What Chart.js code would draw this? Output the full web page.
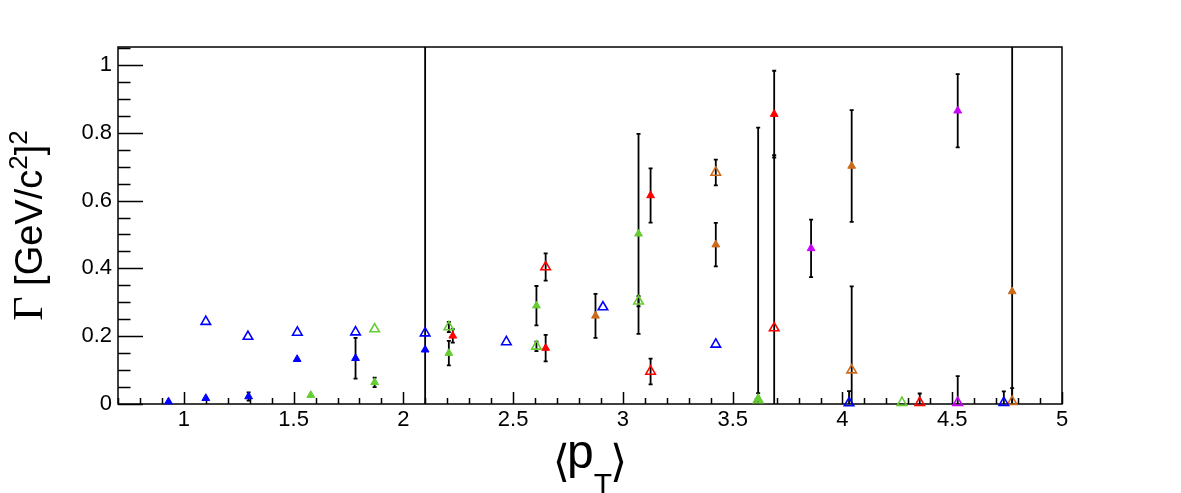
<!DOCTYPE html>
<html>
<head>
<meta charset="utf-8">
<script src="https://cdn.jsdelivr.net/npm/chart.js@4.4.1/dist/chart.umd.min.js"></script>
<style>
  html, body { margin: 0; padding: 0; background: #fff; }
  #wrap { width: 1181px; height: 493px; }
</style>
</head>
<body>
<div id="wrap"><canvas id="gammaChart" width="1181" height="493"></canvas></div>
<script>
// axis tick labels
const xTicks = [1, 1.5, 2, 2.5, 3, 3.5, 4, 4.5, 5];
const yTicks = [0, 0.2, 0.4, 0.6, 0.8, 1];

// <pT>, Gamma and error of Gamma, one set of arrays per series
const blueFilledPt  = [0.93, 1.10, 1.295, 1.516, 1.782, 2.099];
const blueFilledG   = [0.007, 0.017, 0.022, 0.132, 0.135, 0.160];
const blueFilledErr = [0, 0, 0.012, 0, 0.06, 1.0];

const blueOpenPt  = [1.10, 1.292, 1.517, 1.782, 2.099, 2.469, 2.909, 3.423, 4.03, 4.735];
const blueOpenG   = [0.243, 0.199, 0.211, 0.212, 0.209, 0.183, 0.286, 0.176, 0.003, 0.004];
const blueOpenErr = [0, 0, 0, 0, 0, 0, 0, 0, 0.035, 0.033];

const greenFilledPt  = [1.578, 1.869, 2.207, 2.606, 3.071, 3.616];
const greenFilledG   = [0.026, 0.064, 0.150, 0.290, 0.502, 0.015];
const greenFilledErr = [0, 0.014, 0.036, 0.058, 0.295, 0.80];

const greenOpenPt  = [1.869, 2.207, 2.606, 3.071, 3.616, 4.271];
const greenOpenG   = [0.221, 0.227, 0.170, 0.303, 0.012, 0.004];
const greenOpenErr = [0, 0.015, 0.014, 0.015, 0.02, 0];

const redFilledPt  = [2.225, 2.648, 3.126, 3.689];
const redFilledG   = [0.201, 0.165, 0.615, 0.855];
const redFilledErr = [0.02, 0.039, 0.08, 0.128];

const redOpenPt  = [2.648, 3.126, 3.689, 4.352];
const redOpenG   = [0.404, 0.096, 0.224, 0.004];
const redOpenErr = [0.04, 0.038, 0.51, 0.027];

const brownFilledPt  = [2.875, 3.423, 4.042, 4.773];
const brownFilledG   = [0.260, 0.470, 0.702, 0.332];
const brownFilledErr = [0.065, 0.064, 0.165, 0.8];

const brownOpenPt  = [3.423, 4.042, 4.773];
const brownOpenG   = [0.683, 0.100, 0.007];
const brownOpenErr = [0.038, 0.247, 0.04];

const purpleFilledPt  = [3.857, 4.525];
const purpleFilledG   = [0.459, 0.865];
const purpleFilledErr = [0.085, 0.108];

const purpleOpenPt  = [4.525];
const purpleOpenG   = [0.004];
const purpleOpenErr = [0.078];

const BLUE = '#0000ff', GREEN = '#66cc33', RED = '#ff0000', BROWN = '#cc6a1a', PURPLE = '#cc00ff';

const series = [
    { pt: blueFilledPt, g: blueFilledG, err: blueFilledErr, color: BLUE, open: false },
    { pt: blueOpenPt, g: blueOpenG, err: blueOpenErr, color: BLUE, open: true },
    { pt: greenFilledPt, g: greenFilledG, err: greenFilledErr, color: GREEN, open: false },
    { pt: greenOpenPt, g: greenOpenG, err: greenOpenErr, color: GREEN, open: true },
    { pt: redFilledPt, g: redFilledG, err: redFilledErr, color: RED, open: false },
    { pt: redOpenPt, g: redOpenG, err: redOpenErr, color: RED, open: true },
    { pt: brownFilledPt, g: brownFilledG, err: brownFilledErr, color: BROWN, open: false },
    { pt: brownOpenPt, g: brownOpenG, err: brownOpenErr, color: BROWN, open: true },
    { pt: purpleFilledPt, g: purpleFilledG, err: purpleFilledErr, color: PURPLE, open: false },
    { pt: purpleOpenPt, g: purpleOpenG, err: purpleOpenErr, color: PURPLE, open: true }
];

const SANS = '"Liberation Sans", Arial, sans-serif';

// frame and inward ticks, ROOT style
const frameTicks = {
    id: 'frameTicks',
    beforeDatasetsDraw(chart) {
        const { ctx, chartArea: a, scales: { x, y } } = chart;
        ctx.save();
        ctx.strokeStyle = '#000';
        ctx.lineWidth = 1.5;
        ctx.strokeRect(a.left, a.top, a.right - a.left, a.bottom - a.top);
        ctx.beginPath();
        // x ticks: major every 0.5, minor every 0.1
        for (let k = 7; k <= 50; k++) {
            const v = k / 10;
            const px = Math.round(x.getPixelForValue(v)) + 0.5;
            const len = (k % 5 === 0) ? 12 : 6;
            ctx.moveTo(px, a.bottom);
            ctx.lineTo(px, a.bottom - len);
        }
        // y ticks: major every 0.2, minor every 0.05
        for (let k = 0; k <= 21; k++) {
            const v = k * 0.05;
            const py = Math.round(y.getPixelForValue(v)) + 0.5;
            const len = (k % 4 === 0) ? 25 : 12.5;
            ctx.moveTo(a.left, py);
            ctx.lineTo(a.left + len, py);
        }
        ctx.stroke();
        ctx.restore();
    }
};

// vertical error bars with small end caps
const errorBars = {
    id: 'errorBars',
    beforeDatasetsDraw(chart) {
        const { ctx, chartArea: a, scales: { x, y } } = chart;
        ctx.save();
        ctx.beginPath();
        ctx.rect(a.left, a.top, a.right - a.left, a.bottom - a.top);
        ctx.clip();
        ctx.strokeStyle = '#000';
        ctx.lineWidth = 1.8;
        series.forEach(s => {
            s.pt.forEach((p, i) => {
                const e = s.err[i];
                if (!e) return;
                const px = x.getPixelForValue(p);
                const top = y.getPixelForValue(s.g[i] + e);
                const bot = y.getPixelForValue(s.g[i] - e);
                ctx.beginPath();
                ctx.moveTo(px, top);
                ctx.lineTo(px, bot);
                ctx.moveTo(px - 2, top);
                ctx.lineTo(px + 2, top);
                ctx.moveTo(px - 2, bot);
                ctx.lineTo(px + 2, bot);
                ctx.stroke();
            });
        });
        ctx.restore();
    }
};

// axis titles with sub/superscripts
const axisTitles = {
    id: 'axisTitles',
    afterDraw(chart) {
        const { ctx, chartArea: a } = chart;
        ctx.save();
        ctx.fillStyle = '#000';
        ctx.textBaseline = 'alphabetic';

        // x title: <p_T>
        const xParts = [
            { t: '\u27E8', font: '44px "DejaVu Sans"', dy: 8, kern: -3 },
            { t: 'p', font: '48px ' + SANS, dy: 0, kern: 0 },
            { t: 'T', font: '30px ' + SANS, dy: 26, kern: -2 },
            { t: '\u27E9', font: '44px "DejaVu Sans"', dy: 8, kern: 0 }
        ];
        let w = 0;
        xParts.forEach(pp => { ctx.font = pp.font; pp.w = ctx.measureText(pp.t).width; w += pp.w + pp.kern; });
        let cx = (a.left + a.right) / 2 - w / 2;
        xParts.forEach(pp => {
            ctx.font = pp.font;
            ctx.fillText(pp.t, cx, 468 + pp.dy);
            cx += pp.w + pp.kern;
        });

        // y title: Gamma [GeV/c^2]^2, rotated
        const yParts = [
            { t: '\u0393', font: '42px "Liberation Serif", serif', dy: 0 },
            { t: ' [GeV/c', font: '38px ' + SANS, dy: 0 },
            { t: '2', font: '26px ' + SANS, dy: -15 },
            { t: ']', font: '38px ' + SANS, dy: 0 },
            { t: '2', font: '26px ' + SANS, dy: -15 }
        ];
        let h = 0;
        yParts.forEach(pp => { ctx.font = pp.font; pp.w = ctx.measureText(pp.t).width; h += pp.w; });
        ctx.translate(42, (a.top + a.bottom) / 2 + h / 2);
        ctx.rotate(-Math.PI / 2);
        let cy = 0;
        yParts.forEach(pp => {
            ctx.font = pp.font;
            ctx.fillText(pp.t, cy, pp.dy);
            cy += pp.w;
        });
        ctx.restore();
    }
};

const chart = new Chart(document.getElementById('gammaChart'), {
    type: 'scatter',
    data: {
        datasets: series.map(s => ({
            data: s.pt.map((p, i) => ({ x: p, y: s.g[i] })),
            pointStyle: 'triangle',
            pointRadius: s.open ? 5.5 : 4.5,
            borderWidth: s.open ? 1.6 : 1,
            borderColor: s.color,
            backgroundColor: s.open ? 'rgba(0,0,0,0)' : s.color,
            showLine: false,
            clip: false
        }))
    },
    options: {
        responsive: false,
        animation: false,
        events: [],
        layout: { padding: { top: 47, right: 119, left: 0, bottom: 0 } },
        plugins: {
            legend: { display: false },
            tooltip: { enabled: false }
        },
        scales: {
            x: {
                type: 'linear',
                min: 0.7,
                max: 5.0,
                grid: { display: false, drawTicks: false },
                border: { display: false },
                afterBuildTicks: s => { s.ticks = xTicks.map(v => ({ value: v })); },
                afterFit: s => { s.height = 89; },
                ticks: {
                    color: '#000',
                    font: { family: SANS, size: 22 },
                    padding: 3,
                    maxRotation: 0,
                    autoSkip: false,
                    callback: v => String(v)
                }
            },
            y: {
                type: 'linear',
                min: 0,
                max: 1.053,
                grid: { display: false, drawTicks: false },
                border: { display: false },
                afterBuildTicks: s => { s.ticks = yTicks.map(v => ({ value: v })); },
                afterFit: s => { s.width = 118; },
                ticks: {
                    color: '#000',
                    font: { family: SANS, size: 22 },
                    padding: 6,
                    autoSkip: false,
                    callback: v => String(v)
                }
            }
        }
    },
    plugins: [frameTicks, errorBars, axisTitles]
});
</script>
</body>
</html>
